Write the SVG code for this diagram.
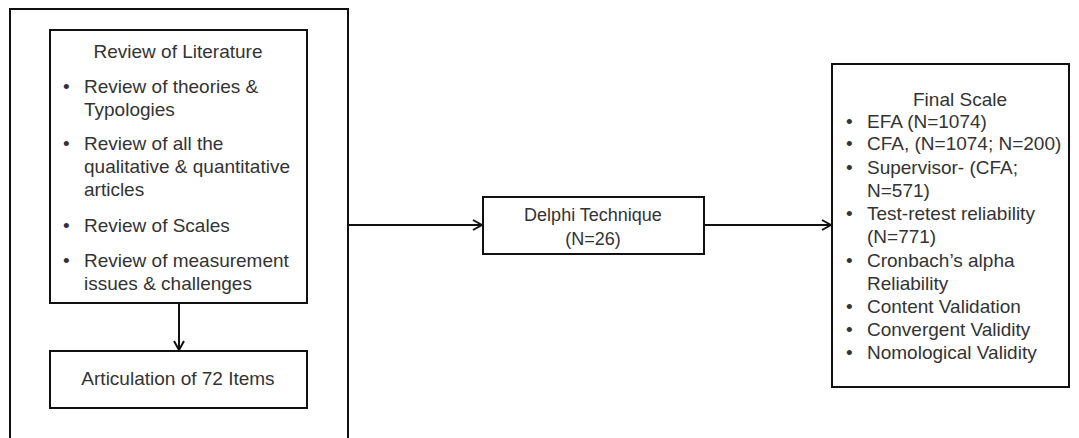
<svg xmlns="http://www.w3.org/2000/svg" width="1079" height="438" viewBox="0 0 1079 438">
<defs>
<style>
.box{fill:#fff;stroke:#111;stroke-width:2}
.frame{fill:none;stroke:#111;stroke-width:2}
.t{font-family:"Liberation Sans",Arial,sans-serif;font-size:19px;fill:#333}
.c{text-anchor:middle}
.edge{fill:none;stroke:#111;stroke-width:2}
</style>
<marker id="arr" viewBox="0 0 12 12" refX="11" refY="6" markerWidth="12" markerHeight="12" markerUnits="userSpaceOnUse" orient="auto">
<path d="M2,1 L11,6 L2,11" fill="none" stroke="#111" stroke-width="2"/>
</marker>
</defs>
<rect width="1079" height="438" fill="#fff"/>
<g id="outer-frame">
<rect class="frame" x="10" y="9" width="338" height="450"/>
</g>
<g id="review-of-literature">
<rect class="box" x="50" y="30" width="257" height="273"/>
<text class="t c" x="178" y="58">Review of Literature</text>
<g class="t">
<text x="63" y="93">•</text><text x="84" y="93">Review of theories &amp;</text>
<text x="84" y="116">Typologies</text>
<text x="63" y="150">•</text><text x="84" y="150">Review of all the</text>
<text x="84" y="173">qualitative &amp; quantitative</text>
<text x="84" y="196">articles</text>
<text x="63" y="232">•</text><text x="84" y="232">Review of Scales</text>
<text x="63" y="267">•</text><text x="84" y="267">Review of measurement</text>
<text x="84" y="290">issues &amp; challenges</text>
</g>
</g>
<g id="articulation">
<rect class="box" x="50" y="351" width="257" height="57"/>
<text class="t c" x="178" y="385">Articulation of 72 Items</text>
</g>
<g id="delphi">
<rect class="box" x="483" y="197" width="221" height="57"/>
<text class="t c" x="593" y="221" style="font-size:18px">Delphi Technique</text>
<text class="t c" x="593" y="245" style="font-size:18px">(N=26)</text>
</g>
<g id="final-scale">
<rect class="box" x="832" y="64" width="237" height="323"/>
<text class="t c" x="960" y="106">Final Scale</text>
<g class="t">
<text x="846" y="128">•</text><text x="867" y="128">EFA (N=1074)</text>
<text x="846" y="150">•</text><text x="867" y="150">CFA, (N=1074; N=200)</text>
<text x="846" y="174">•</text><text x="867" y="174">Supervisor- (CFA;</text>
<text x="867" y="197">N=571)</text>
<text x="846" y="220">•</text><text x="867" y="220">Test-retest reliability</text>
<text x="867" y="243">(N=771)</text>
<text x="846" y="267">•</text><text x="867" y="267">Cronbach’s alpha</text>
<text x="867" y="290">Reliability</text>
<text x="846" y="313">•</text><text x="867" y="313">Content Validation</text>
<text x="846" y="336">•</text><text x="867" y="336">Convergent Validity</text>
<text x="846" y="359">•</text><text x="867" y="359">Nomological Validity</text>
</g>
</g>
<g id="connectors">
<path class="edge" d="M179,303 L179,350" marker-end="url(#arr)"/>
<path class="edge" d="M348,225 L482,225" marker-end="url(#arr)"/>
<path class="edge" d="M704,225 L831,225" marker-end="url(#arr)"/>
</g>
</svg>
